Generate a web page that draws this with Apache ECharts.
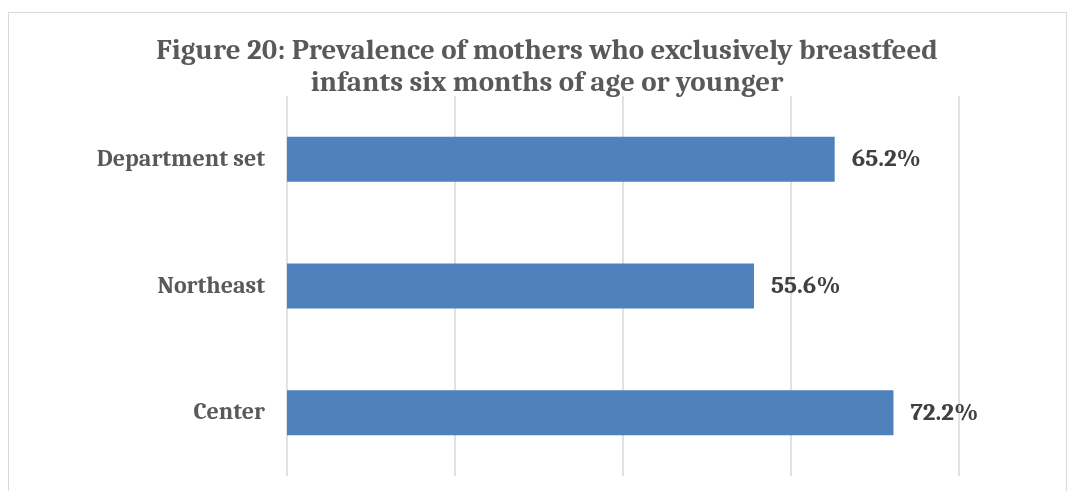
<!DOCTYPE html>
<html>
<head>
<meta charset="utf-8">
<script src="https://cdn.jsdelivr.net/npm/echarts@6/dist/echarts.min.js"></script>
<style>
  html, body { margin: 0; padding: 0; background: #fff; }
  #chart { width: 1075px; height: 491px; }
  .frame { position: absolute; left: 8px; top: 12px; width: 1059px; height: 500px;
           border: 1px solid #d9d9d9; box-sizing: border-box; pointer-events: none; }
</style>
</head>
<body>
<div id="chart"></div>
<div class="frame"></div>
<script>
// Regions, listed bottom-to-top as drawn on the category axis
const categories = ['Center', 'Northeast', 'Department set'];
const prevalence = [72.2, 55.6, 65.2];
const titleLines = [
  'Figure 20: Prevalence of mothers who exclusively breastfeed',
  'infants six months of age or younger'
];

const serif = 'Cambria, "DejaVu Serif", "Liberation Serif", serif';

const chart = echarts.init(document.getElementById('chart'), null, { renderer: 'canvas' });
chart.setOption({
  animation: false,
  backgroundColor: '#ffffff',
  title: {
    text: titleLines.join('\n'),
    left: 542,
    textAlign: 'center',
    top: 30,
    textStyle: {
      fontFamily: serif,
      fontWeight: 'bold',
      fontSize: 29,
      lineHeight: 32,
      color: '#595959'
    }
  },
  grid: { left: 287, right: 116, top: 96, bottom: 15, containLabel: false },
  xAxis: {
    type: 'value',
    min: 0,
    max: 80,
    interval: 20,
    axisLabel: { show: false },
    axisLine: { show: false },
    axisTick: { show: false },
    splitLine: { show: true, lineStyle: { color: '#d9d9d9', width: 1.5 } }
  },
  yAxis: {
    type: 'category',
    data: categories,
    axisLine: { show: false },
    axisTick: { show: false },
    axisLabel: {
      margin: 22,
      fontFamily: serif,
      fontWeight: 'bold',
      fontSize: 24,
      color: '#595959'
    }
  },
  series: [{
    type: 'bar',
    data: prevalence,
    barWidth: 45,
    itemStyle: { color: '#4f81bd' },
    label: {
      show: true,
      position: 'right',
      distance: 17,
      formatter: p => p.value.toFixed(1) + '%',
      fontFamily: serif,
      fontWeight: 'bold',
      fontSize: 25,
      color: '#404040'
    }
  }]
});
</script>
</body>
</html>
